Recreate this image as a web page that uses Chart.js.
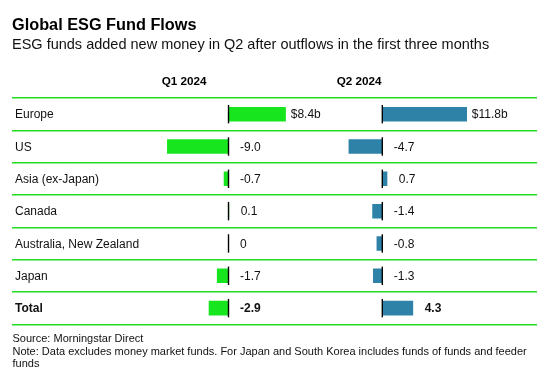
<!DOCTYPE html>
<html>
<head>
<meta charset="utf-8">
<script src="https://cdn.jsdelivr.net/npm/chart.js@4/dist/chart.umd.min.js"></script>
<style>
  html, body { margin: 0; padding: 0; background: #fff; }
  body { width: 544px; height: 383px; position: relative; overflow: hidden; font-family: 'Liberation Sans', Arial, sans-serif; color: #111; }
  #c { position: absolute; left: 0; top: 0; }
  .t { position: absolute; white-space: nowrap; line-height: 1; }
  #title { left: 12px; top: 15.5px; font-size: 16.3px; font-weight: bold; color: #000; }
  #sub { left: 12px; top: 37.2px; font-size: 14.5px; }
  .hdr { top: 75.4px; font-size: 11.7px; font-weight: bold; color: #000; }
  #notes { position: absolute; left: 12.5px; top: 331.8px; font-size: 11px; line-height: 12.8px; white-space: nowrap; }
</style>
</head>
<body>
<canvas id="c" width="544" height="383"></canvas>
<div class="t" id="title">Global ESG Fund Flows</div>
<div class="t" id="sub">ESG funds added new money in Q2 after outflows in the first three months</div>
<div class="t hdr" id="h1" style="left:161.7px">Q1 2024</div>
<div class="t hdr" id="h2" style="left:336.7px">Q2 2024</div>
<div id="notes">Source: Morningstar Direct<br>Note: Data excludes money market funds. For Japan and South Korea includes funds of funds and feeder<br>funds</div>
<script>
// ---- data ----
const categories = ['Europe', 'US', 'Asia (ex-Japan)', 'Canada', 'Australia, New Zealand', 'Japan', 'Total'];
const seriesNames = ['Q1 2024', 'Q2 2024'];
const q1Flows = [8.4, -9.0, -0.7, 0.1, 0, -1.7, -2.9];
const q2Flows = [11.8, -4.7, 0.7, -1.4, -0.8, -1.3, 4.3];

const FONT = "'Liberation Sans', Arial, sans-serif";
const GREEN = '#17e61f';
const BLUE = '#2e82a7';
const RULE = '#22dd22';

function fmt(v, i) {
  let s = Math.abs(v) < 0.05 ? '0' : v.toFixed(1);
  return s;
}

const overlay = {
  id: 'overlay',
  afterDatasetsDraw(chart) {
    const ctx = chart.ctx;
    const y = chart.scales.y;
    const axes = [chart.scales.x1, chart.scales.x2];
    const series = [q1Flows, q2Flows];
    ctx.save();
    axes.forEach((sc, k) => {
      const x0 = sc.getPixelForValue(0);
      series[k].forEach((v, i) => {
        const yc = y.getPixelForValue(i);
        // zero line
        ctx.beginPath();
        ctx.strokeStyle = '#000';
        ctx.lineWidth = 1.4;
        ctx.moveTo(x0, yc - 9.2);
        ctx.lineTo(x0, yc + 9.2);
        ctx.stroke();
        // value label
        const bold = i === categories.length - 1;
        ctx.font = (bold ? 'bold ' : '') + '12px ' + FONT;
        ctx.fillStyle = '#111';
        ctx.textBaseline = 'middle';
        const xl = sc.getPixelForValue(Math.max(v, 0)) + 11.5;
        let txt = fmt(v, i);
        if (i === 0) {
          txt += 'b';
          ctx.textAlign = 'right';
          ctx.fillText('$', xl, yc + 1);
        }
        ctx.textAlign = 'left';
        ctx.fillText(txt, xl, yc + 1);
      });
    });
    ctx.restore();
  }
};

new Chart(document.getElementById('c'), {
  type: 'bar',
  data: {
    labels: categories,
    datasets: [
      { label: seriesNames[0], data: q1Flows, xAxisID: 'x1', backgroundColor: GREEN, grouped: false,
        barPercentage: 0.45, categoryPercentage: 1 },
      { label: seriesNames[1], data: q2Flows, xAxisID: 'x2', backgroundColor: BLUE, grouped: false,
        barPercentage: 0.45, categoryPercentage: 1 }
    ]
  },
  options: {
    indexAxis: 'y',
    responsive: false,
    animation: false,
    devicePixelRatio: 1,
    layout: { padding: { top: 98, bottom: 58.7, left: 6, right: 7 } },
    plugins: { legend: { display: false }, tooltip: { enabled: false } },
    scales: {
      y: {
        type: 'category',
        position: 'left',
        border: { display: false },
        grid: { color: RULE, lineWidth: 1.6, offset: true, drawTicks: false },
        ticks: {
          mirror: true,
          padding: 3,
          labelOffset: 1,
          color: '#111',
          font: (c) => ({ family: FONT, size: 12, weight: c.index === categories.length - 1 ? 'bold' : 'normal' })
        }
      },
      x1: {
        type: 'linear', position: 'bottom', stack: 'cols', stackWeight: 293,
        min: -31.7, max: 11.2, display: false
      },
      x2: {
        type: 'linear', position: 'bottom', stack: 'cols', stackWeight: 232,
        min: -10.77, max: 21.55, display: false
      }
    }
  },
  plugins: [overlay]
});
</script>
</body>
</html>
